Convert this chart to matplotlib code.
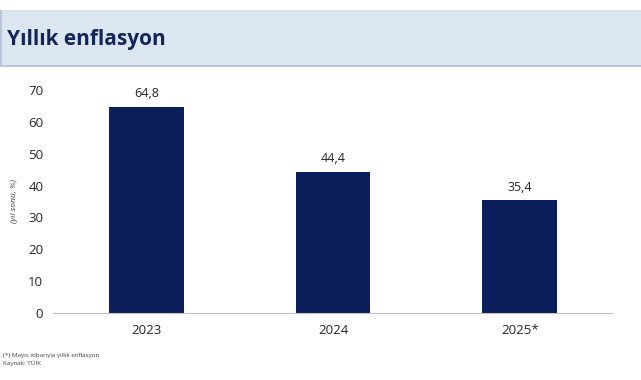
import matplotlib
matplotlib.use("Agg")
import matplotlib.pyplot as plt
from matplotlib.patches import Rectangle

categories = ["2023", "2024", "2025*"]
values = [64.8, 44.4, 35.4]
value_labels = ["64,8", "44,4", "35,4"]
yticks = [0, 10, 20, 30, 40, 50, 60, 70]

plt.rcParams['font.family'] = ['Open Sans', 'DejaVu Sans']

fig = plt.figure(figsize=(6.41, 3.8), dpi=100)
W, H = 641, 380

# Header band
fig.patches.append(Rectangle((0, (H - 66) / H), 1, 56 / H, transform=fig.transFigure,
                             facecolor="#dce6f1", edgecolor="none", zorder=0))
fig.patches.append(Rectangle((0, (H - 67) / H), 1, 2 / H, transform=fig.transFigure,
                             facecolor="#b8c3dc", edgecolor="none", zorder=0))
fig.patches.append(Rectangle((0, (H - 66) / H), 2 / W, 56 / H, transform=fig.transFigure,
                             facecolor="#b8c3dc", edgecolor="none", zorder=0))
fig.text(7 / W, (H - 39) / H, "Yıllık enflasyon", fontsize=15, fontweight="bold",
         color="#14255a", va="center", ha="left")

ax = fig.add_axes([53 / W, (H - 313) / H, (613 - 53) / W, (313 - 90) / H])
x = range(len(categories))
bars = ax.bar(x, values, width=0.40, color="#0a1f5c")
ax.set_xlim(-0.5, 2.5)
ax.set_ylim(0, 70)
ax.set_yticks(yticks)
ax.set_xticks(list(x))
ax.set_xticklabels(categories)
for b, lab in zip(bars, value_labels):
    ax.text(b.get_x() + b.get_width() / 2, b.get_height() + 2, lab,
            ha="center", va="bottom", fontsize=9, color="#262626")

for s in ["top", "right", "left"]:
    ax.spines[s].set_visible(False)
ax.spines["bottom"].set_color("#bfbfbf")
ax.tick_params(axis="both", length=0, labelsize=9.5, colors="#262626")
ax.tick_params(axis="y", pad=7)
ax.tick_params(axis="x", pad=8)

fig.text(15 / W, (H - 201) / H, "(yıl sonu, %)", rotation=90, fontsize=6,
         style="italic", color="#404040", ha="center", va="center")

fig.text(3 / W, (H - 355) / H, "(*) Mayıs itibarıyla yıllık enflasyon", fontsize=4.5,
         color="#404040", ha="left", va="center")
fig.text(3 / W, (H - 363) / H, "Kaynak: TÜİK", fontsize=4.5,
         color="#404040", ha="left", va="center")

fig.savefig("out.png", dpi=100)
